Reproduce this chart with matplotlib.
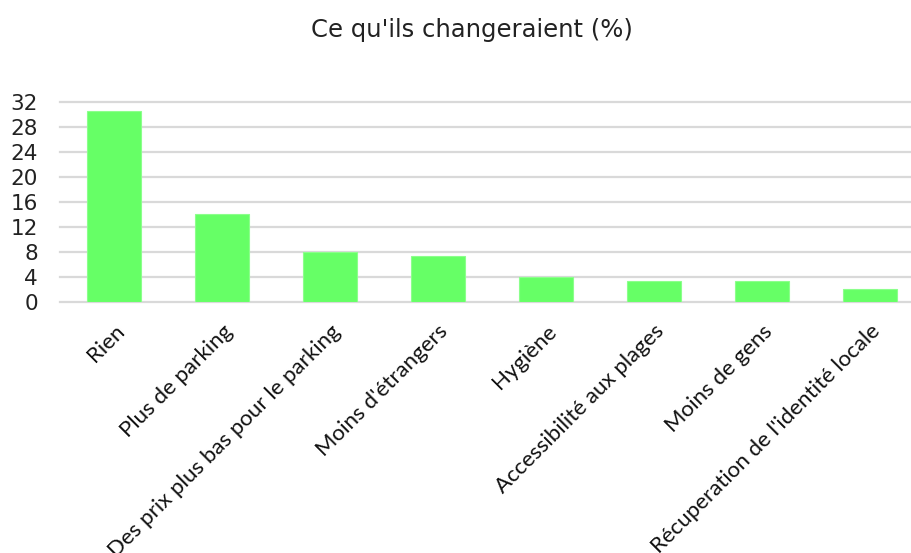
import matplotlib.pyplot as plt
import numpy as np

categories = [
    "Rien",
    "Plus de parking",
    "Des prix plus bas pour le parking",
    "Moins d'étrangers",
    "Hygiène",
    "Accessibilité aux plages",
    "Moins de gens",
    "Récuperation de l'identité locale",
]
values = [30.6, 14.0, 8.0, 7.3, 4.0, 3.3, 3.3, 2.0]
yticks = [0, 4, 8, 12, 16, 20, 24, 28, 32]

W, H = 912, 553
fig = plt.figure(figsize=(W / 100, H / 100), dpi=100)

# plot area in pixel coordinates
left, right, top, bottom = 60, 924, 102, 301.7
ax = fig.add_axes([left / W, 1 - bottom / H, (right - left) / W, (bottom - top) / H])

x = np.arange(len(categories))
ax.bar(x, values, width=0.5, color="#66ff66", edgecolor="#8cff8c", linewidth=0.8, zorder=3)

ax.set_xlim(-0.5, len(categories) - 0.5)
ax.set_ylim(0, 32)
ax.set_yticks(yticks)
ax.set_yticklabels([str(t) for t in yticks], fontsize=15.5, family="DejaVu Sans", color="#222222")
ax.yaxis.grid(True, color="#d9d9d9", linewidth=1.6, zorder=0)
for gl in ax.get_ygridlines():
    gl.set_clip_on(False)
ax.set_axisbelow(True)
for s in ax.spines.values():
    s.set_visible(False)
ax.tick_params(axis="y", length=0, pad=16)
ax.tick_params(axis="x", length=0, pad=14)

ax.set_xticks(x)
ax.set_xticklabels(categories, rotation=45, ha="right", va="top",
                   rotation_mode="anchor", fontsize=16, family="Lato", color="#111111")

fig.text(472 / W, 1 - 30 / H, "Ce qu'ils changeraient (%)", ha="center", va="center",
         fontsize=17.5, family="DejaVu Sans", color="#222222")

fig.savefig("out.png", dpi=100)
